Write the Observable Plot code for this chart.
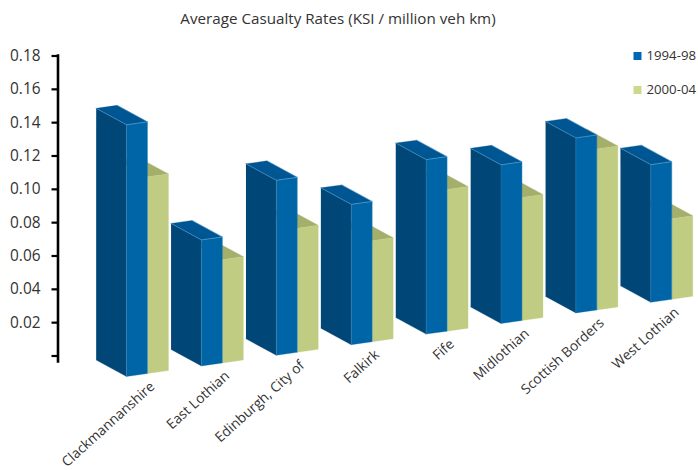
<!DOCTYPE html>
<html>
<head>
<meta charset="utf-8">
<script src="https://cdn.jsdelivr.net/npm/d3@7"></script>
<script src="https://cdn.jsdelivr.net/npm/@observablehq/plot@0.6"></script>
<style>
  html, body { margin: 0; padding: 0; background: #fff; overflow: hidden; }
  svg { display: block; }
</style>
</head>
<body>
<div id="chart"></div>
<script>
// Average casualty rates per council area, two study periods
const categories = ["Clackmannanshire", "East Lothian", "Edinburgh, City of", "Falkirk", "Fife", "Midlothian", "Scottish Borders", "West Lothian"];
const rates1994 = [0.151, 0.0756, 0.105, 0.0842, 0.1047, 0.0952, 0.105, 0.0826];
const rates2000 = [0.118, 0.062, 0.0744, 0.0606, 0.085, 0.0738, 0.0966, 0.0484];
const yTicks = [0, 0.02, 0.04, 0.06, 0.08, 0.10, 0.12, 0.14, 0.16, 0.18];
const seriesNames = ["1994-98", "2000-04"];

// Oblique projection of the bars, in scale units
const barWidth = 0.28;   // width of one bar along the category axis
const depthX = -0.405;   // sideways shift of the back of a bar
const depthY = 0.0099;   // upward shift of the back of a bar
const shear = 0.00636;   // rise of the floor per category
const floor = -0.0123;   // floor level under the first category

function corner(i, slot, across, back, height) {
  const u = i + (slot + across) * barWidth;
  return {x: u + back * depthX, y: floor + shear * u + back * depthY + height};
}
function face(values, slot, build) {
  return values.flatMap((v, i) => build(v).map(([across, back, h]) => ({...corner(i, slot, across, back, h), bar: i})));
}
const sideFace = v => [[0, 1, 0], [0, 0, 0], [0, 0, v], [0, 1, v]];
const frontFace = v => [[0, 0, 0], [1, 0, 0], [1, 0, v], [0, 0, v]];
const topFace = v => [[0, 0, v], [1, 0, v], [1, 1, v], [0, 1, v]];
const highlight = v => [[0, 1, v], [0, 0, v], [1, 0, v], [1, 1, v]];
const cornerEdge = v => [[1, 0, 0], [1, 0, v], [0, 0, v], [0, 0, 0]];

function polygon(points, fill) {
  return Plot.line(points, {x: "x", y: "y", z: "bar", fill, stroke: fill, strokeWidth: 0.3});
}
function edge(points, opacity) {
  return Plot.line(points, {x: "x", y: "y", z: "bar", stroke: "#5fa6d8", strokeWidth: 0.6, strokeOpacity: opacity});
}

const labelRows = categories.map((name, i) => ({name, x: i, y: floor + shear * i}));
const font = "'Open Sans', sans-serif";
const ink = "#333";

const chart = Plot.plot({
  width: 698,
  height: 470,
  marginTop: 55,
  marginBottom: 109,
  marginLeft: 57.5,
  marginRight: 0,
  x: {domain: [0, 1], range: [126, 200.9], axis: null},
  y: {domain: [0, 0.18], range: [355.5, 55.5], axis: null},
  style: {fontFamily: font, background: "#fff", color: ink, overflow: "visible"},
  marks: [
    Plot.frame({anchor: "left", stroke: "#000", strokeWidth: 2.6}),
    Plot.axisY({
      anchor: "left", ticks: yTicks, label: null,
      tickFormat: d => (d === 0 ? "" : d3.format(".2f")(d)),
      tickSize: 6, tickPadding: 11.5, stroke: "#000", strokeWidth: 2.2,
      fontSize: 15.4, fill: ink
    }),

    // Later period bars sit behind the earlier ones
    polygon(face(rates2000, 1, topFace), "#a5af6c"),
    polygon(face(rates2000, 1, frontFace), "#c0cc82"),

    polygon(face(rates1994, 0, sideFace), "#004777"),
    polygon(face(rates1994, 0, topFace), "#005692"),
    polygon(face(rates1994, 0, frontFace), "#0065a6"),
    edge(face(rates1994, 0, highlight), 0.75),
    edge(face(rates1994, 0, cornerEdge), 0.35),

    Plot.text(labelRows, {
      x: "x", y: "y", text: "name", rotate: -42, textAnchor: "end",
      dx: 26, dy: 8, fontSize: 13.8, fill: ink
    }),

    // Title and legend
    Plot.text(["Average Casualty Rates (KSI / million veh km)"], {
      frameAnchor: "top-left", dx: 337.5 - 57.5, dy: 19 - 55, textAnchor: "middle",
      lineAnchor: "middle", fontSize: 15.2, fill: ink
    }),
    Plot.dot([0], {frameAnchor: "top-left", dx: 637 - 57.5, dy: 0.5, symbol: "square", r: 4.5, fill: "#0068b3"}),
    Plot.dot([0], {frameAnchor: "top-left", dx: 637 - 57.5, dy: 34.5, symbol: "square", r: 4.5, fill: "#ccd98b"}),
    Plot.text([seriesNames[0]], {frameAnchor: "top-left", dx: 646 - 57.5, dy: 0.5, textAnchor: "start", lineAnchor: "middle", fontSize: 13.2, fill: ink}),
    Plot.text([seriesNames[1]], {frameAnchor: "top-left", dx: 646 - 57.5, dy: 34.5, textAnchor: "start", lineAnchor: "middle", fontSize: 13.2, fill: ink})
  ]
});
document.getElementById("chart").append(chart);
</script>
</body>
</html>
